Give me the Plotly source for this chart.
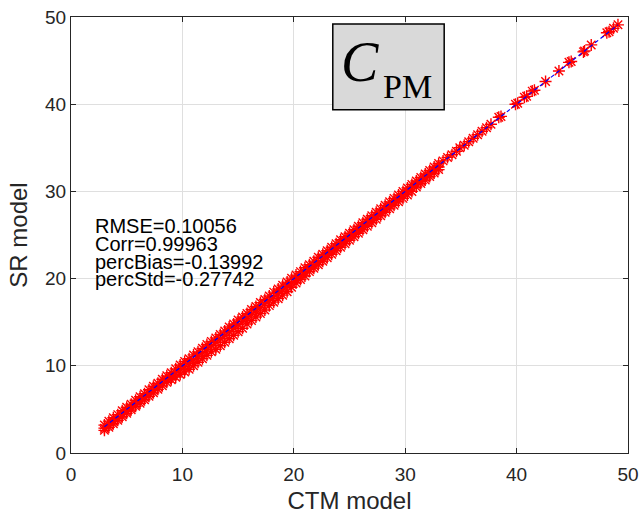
import plotly.graph_objects as go

# ---- data ----
ctm_band = [3.0,3.4,3.8,4.2,4.6,5.0,5.4,5.8,6.2,6.6,
            7.0,7.4,7.8,8.2,8.6,9.0,9.4,9.8,10.2,10.6,
            11.0,11.4,11.8,12.2,12.6,13.0,13.4,13.8,14.2,14.6,
            15.0,15.4,15.8,16.2,16.6,17.0,17.4,17.8,18.2,18.6,
            19.0,19.4,19.8,20.2,20.6,21.0,21.4,21.8,22.2,22.6,
            23.0,23.4,23.8,24.2,24.6,25.0,25.4,25.8,26.2,26.6,
            27.0,27.4,27.8,28.2,28.6,29.0,29.4,29.8,30.2,30.6,
            31.0,31.4,31.8,32.2,32.6,33.0]
sr_upper = [3.2,3.65,4.05,4.4,4.85,5.25,5.6,6.05,6.45,6.8,
            7.25,7.65,8.0,8.45,8.85,9.2,9.65,10.1,10.5,10.8,
            11.25,11.6,12.0,12.45,12.8,13.2,13.6,14.0,14.45,14.8,
            15.25,15.6,16.0,16.45,16.8,17.25,17.6,18.0,18.45,18.8,
            19.25,19.6,20.05,20.4,20.8,21.25,21.6,22.0,22.45,22.8,
            23.2,23.6,24.0,24.45,24.8,25.2,25.6,26.0,26.4,26.8,
            27.2,27.6,28.0,28.4,28.8,29.2,29.6,30.0,30.4,30.8,
            31.2,31.6,32.0,32.4,32.8,33.2]
sr_mid = [2.85,3.2,3.6,4.0,4.4,4.8,5.2,5.6,6.0,6.4,
          6.8,7.2,7.6,8.0,8.4,8.8,9.2,9.6,9.9,10.3,
          10.7,11.1,11.5,11.9,12.3,12.7,13.1,13.5,13.9,14.3,
          14.7,15.1,15.5,15.9,16.3,16.7,17.1,17.5,17.9,18.3,
          18.7,19.1,19.5,19.9,20.3,20.7,21.1,21.5,21.9,22.3,
          22.8,23.2,23.6,24.0,24.4,24.8,25.2,25.6,26.0,26.4,
          26.8,27.2,27.6,28.0,28.4,28.8,29.2,29.6,30.0,30.4,
          30.8,31.2,31.6,32.0,32.4,32.8]
sr_lower = [2.6,2.95,3.35,3.75,4.15,4.55,4.95,5.35,5.7,6.1,
            6.5,6.9,7.3,7.7,8.1,8.4,8.7,9.0,9.3,9.6,
            10.0,10.4,10.8,11.2,11.6,11.9,12.3,12.7,13.1,13.5,
            13.9,14.3,14.8,15.2,15.6,16.0,16.4,16.9,17.3,17.7,
            18.1,18.5,19.0,19.5,19.9,20.3,20.8,21.2,21.6,22.0,
            22.4,22.8,23.2,23.6,24.0,24.4,24.8,25.2,25.6,26.0,
            26.4,26.8,27.2,27.6,28.0,28.4,28.8,29.2,29.6,30.0,
            30.5,30.9,31.3,31.7,32.1,32.5]
ctm_tail = [33.4,33.8,34.2,34.6,34.9,35.3,35.7,36.1,36.5,36.9,
            37.3,37.7,38.4,38.6,39.9,40.1,40.7,40.9,41.4,41.6,
            42.6,43.8,44.7,44.9,46.0,46.1,46.7,48.1,48.3,48.7,49.1]
sr_tail = [33.5,33.9,34.2,34.6,35.0,35.3,35.7,36.1,36.5,36.9,
           37.3,37.7,38.5,38.6,40.0,40.1,40.8,40.9,41.5,41.6,
           42.6,43.8,44.8,44.9,46.0,46.1,46.8,48.2,48.3,48.7,49.1]
line_x = [3.0, 49.1]
line_y = [3.0, 49.1]
stats_lines = ["RMSE=0.10056", "Corr=0.99963", "percBias=-0.13992", "percStd=-0.27742"]
x_ticks = [0, 10, 20, 30, 40, 50]
y_ticks = [0, 10, 20, 30, 40, 50]

FONT = "Arial, 'Liberation Sans', sans-serif"
SERIF = "'Times New Roman', 'Liberation Serif', serif"
AX = "#262626"

all_x = ctm_band * 3 + ctm_tail
all_y = sr_upper + sr_mid + sr_lower + sr_tail

fig = go.Figure()
fig.add_trace(go.Scatter(
    x=all_x, y=all_y, mode="markers",
    marker=dict(symbol="asterisk-open", size=10, color="red",
                line=dict(width=1.4, color="red")),
    showlegend=False, hoverinfo="skip"))
fig.add_trace(go.Scatter(
    x=line_x, y=line_y, mode="lines",
    line=dict(color="blue", width=1.2, dash="4px,3px"),
    showlegend=False, hoverinfo="skip"))

axis_common = dict(
    range=[0, 50], showgrid=True, gridcolor="#dfdfdf", gridwidth=1,
    zeroline=False, showline=True, linecolor=AX, linewidth=1,
    mirror="ticks", ticks="inside", ticklen=5, tickcolor=AX,
    tickfont=dict(family=FONT, size=19, color=AX), automargin=False,
)
fig.update_xaxes(tickvals=x_ticks, ticklabelstandoff=4,
                 title=dict(text="CTM model",
                 font=dict(family=FONT, size=24, color=AX), standoff=12),
                 **axis_common)
fig.update_yaxes(tickvals=y_ticks, title=dict(text="SR model",
                 font=dict(family=FONT, size=24, color=AX), standoff=10),
                 **axis_common)

ys = [0.521, 0.480, 0.439, 0.400]
for t, yy in zip(stats_lines, ys):
    fig.add_annotation(text=t, xref="paper", yref="paper", x=0.0395, y=yy,
                       xanchor="left", yanchor="middle", showarrow=False,
                       font=dict(family=FONT, size=20, color="black"))

fig.add_shape(type="rect", xref="paper", yref="paper",
              x0=0.470, x1=0.670, y0=0.787, y1=0.984,
              fillcolor="#d9d9d9", line=dict(color="black", width=1.5))
fig.add_annotation(text="<i>C</i>", xref="paper", yref="paper",
                   x=(360 - 71) / 557, y=(453.3 - 62) / 436.3,
                   xanchor="center", yanchor="middle", showarrow=False,
                   font=dict(family=SERIF, size=56, color="black"))
fig.add_annotation(text="PM", xref="paper", yref="paper",
                   x=(407 - 71) / 557, y=(453.3 - 87) / 436.3,
                   xanchor="center", yanchor="middle", showarrow=False,
                   font=dict(family=SERIF, size=34, color="black"))

fig.update_layout(
    width=640, height=514,
    margin=dict(l=71, r=12, t=17, b=61),
    paper_bgcolor="white", plot_bgcolor="white",
)
fig.write_html("out.html")
